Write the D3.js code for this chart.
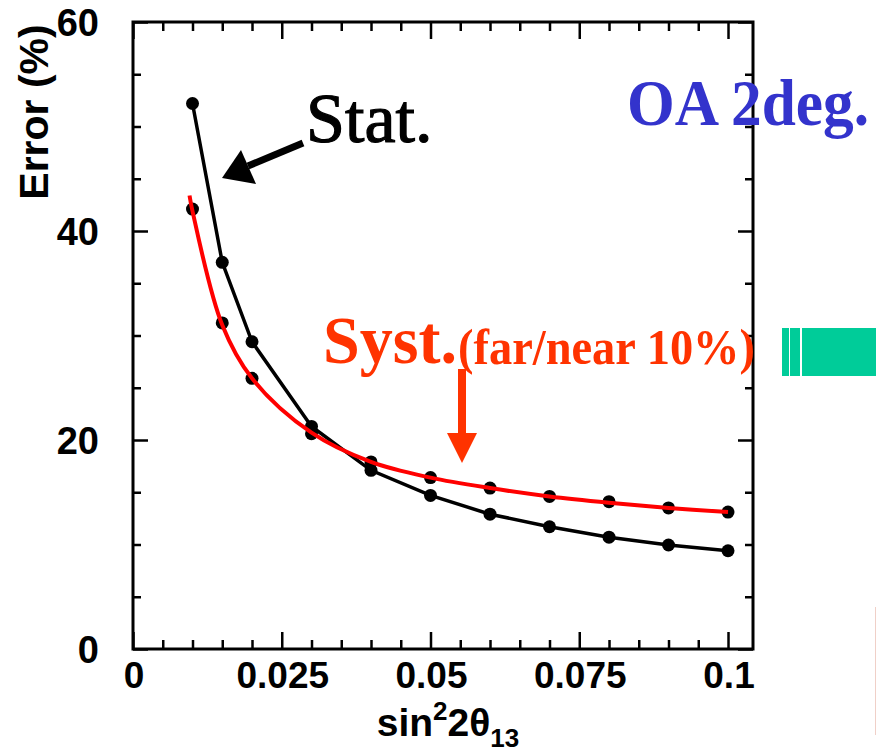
<!DOCTYPE html>
<html>
<head>
<meta charset="utf-8">
<script src="https://cdn.jsdelivr.net/npm/d3@7"></script>
<style>
  html, body { margin: 0; padding: 0; background: #fff; }
  svg { display: block; }
  .axis-num { font-family: "Liberation Sans", Arial, Helvetica, sans-serif; font-weight: bold; }
  .serif { font-family: "Liberation Serif", "Times New Roman", serif; }
</style>
</head>
<body>
<div id="chart"></div>
<script>
// data
const mixing = [0.01, 0.015, 0.02, 0.03, 0.04, 0.05, 0.06, 0.07, 0.08, 0.09, 0.1];
const statError = [52.2, 37.0, 29.4, 21.3, 17.1, 14.7, 12.9, 11.7, 10.7, 9.95, 9.4];
const systError = [42.1, 31.2, 25.9, 20.6, 17.9, 16.4, 15.4, 14.6, 14.1, 13.5, 13.1];
// the red fit line starts a little above the first point
const systFitX = [0.0095, 0.01, 0.015, 0.02, 0.03, 0.04, 0.05, 0.06, 0.07, 0.08, 0.09, 0.1];
const systFitY = [43.4, 41.9, 31.0, 25.9, 20.7, 17.9, 16.4, 15.4, 14.6, 14.0, 13.5, 13.1];
const xTicks = [0, 0.025, 0.05, 0.075, 0.1];
const xTickLabels = ['0', '0.025', '0.05', '0.075', '0.1'];
const yTicks = [0, 20, 40, 60];

// dimension stuff
const width = 876;
const height = 752;
const marginLeft = 133;
const marginTop = 22;
const plotW = 620;
const plotH = 627;

// scales
const scaleX = d3.scaleLinear().domain([0, 0.1042]).range([0, plotW]);
const scaleY = d3.scaleLinear().domain([0, 60]).range([plotH, 0]);

const $svg = d3.select('#chart').append('svg')
    .attr('width', width)
    .attr('height', height);

const $g = $svg.append('g')
    .attr('transform', `translate(${marginLeft}, ${marginTop})`);

// minor tick values
const xMinor = d3.range(0, 0.1041, 0.005).filter(v => xTicks.every(t => Math.abs(t - v) > 1e-9));
const yMinor = d3.range(0, 60.1, 5).filter(v => yTicks.indexOf(v) < 0);

function tickAxis(axisFn, scale, values, size, transform) {
    const $a = $g.append('g')
        .attr('transform', transform)
        .call(axisFn(scale).tickValues(values).tickSize(-size).tickFormat(''));
    $a.select('.domain').remove();
    $a.selectAll('line').attr('stroke', '#000').attr('stroke-width', 2.5);
    return $a;
}

// ticks on all four sides, pointing inwards
tickAxis(d3.axisBottom, scaleX, xTicks, 17, `translate(0, ${plotH})`);
tickAxis(d3.axisBottom, scaleX, xMinor, 9, `translate(0, ${plotH})`);
tickAxis(d3.axisTop, scaleX, xTicks, 17, 'translate(0, 0)');
tickAxis(d3.axisTop, scaleX, xMinor, 9, 'translate(0, 0)');
tickAxis(d3.axisLeft, scaleY, yTicks, 15, 'translate(0, 0)');
tickAxis(d3.axisLeft, scaleY, yMinor, 8, 'translate(0, 0)');
tickAxis(d3.axisRight, scaleY, yTicks, 15, `translate(${plotW}, 0)`);
tickAxis(d3.axisRight, scaleY, yMinor, 8, `translate(${plotW}, 0)`);

// frame
$g.append('rect')
    .attr('width', plotW)
    .attr('height', plotH)
    .attr('fill', 'none')
    .attr('stroke', '#000')
    .attr('stroke-width', 3);

// tick labels
$g.append('g').selectAll('text')
    .data(xTicks)
    .join('text')
    .attr('class', 'axis-num')
    .attr('x', d => scaleX(d) + 1)
    .attr('y', plotH + 39)
    .attr('text-anchor', 'middle')
    .attr('font-size', 37)
    .text((d, i) => xTickLabels[i]);

$g.append('g').selectAll('text')
    .data(yTicks)
    .join('text')
    .attr('class', 'axis-num')
    .attr('x', -34)
    .attr('y', d => scaleY(d) + 14)
    .attr('text-anchor', 'end')
    .attr('font-size', 38)
    .text(d => d);

// axis titles
$svg.append('text')
    .attr('class', 'axis-num')
    .attr('transform', 'translate(48, 112) rotate(-90)')
    .attr('text-anchor', 'middle')
    .attr('font-size', 41)
    .text('Error (%)');

const $xt = $svg.append('text')
    .attr('class', 'axis-num')
    .attr('x', 448)
    .attr('y', 736)
    .attr('text-anchor', 'middle')
    .attr('font-size', 39);
$xt.append('tspan').text('sin');
$xt.append('tspan').attr('dy', -16).attr('font-size', 26).text('2');
$xt.append('tspan').attr('dy', 16).text('2θ');
$xt.append('tspan').attr('dy', 11).attr('font-size', 26).text('13');

// curves
const lineStat = d3.line()
    .x((d, i) => scaleX(mixing[i]))
    .y(d => scaleY(d));
const lineSyst = d3.line()
    .x((d, i) => scaleX(systFitX[i]))
    .y(d => scaleY(d))
    .curve(d3.curveCatmullRom);

const $vis = $g.append('g');

$vis.append('path')
    .datum(statError)
    .attr('d', lineStat)
    .attr('fill', 'none')
    .attr('stroke', '#000')
    .attr('stroke-width', 3.5);

$vis.selectAll('.dot-stat')
    .data(statError)
    .join('circle')
    .attr('class', 'dot-stat')
    .attr('cx', (d, i) => scaleX(mixing[i]))
    .attr('cy', d => scaleY(d))
    .attr('r', 6.5)
    .attr('fill', '#000');

$vis.selectAll('.dot-syst')
    .data(systError)
    .join('circle')
    .attr('class', 'dot-syst')
    .attr('cx', (d, i) => scaleX(mixing[i]))
    .attr('cy', d => scaleY(d))
    .attr('r', 6.5)
    .attr('fill', '#000');

$vis.append('path')
    .datum(systFitY)
    .attr('d', lineSyst)
    .attr('fill', 'none')
    .attr('stroke', '#ff0000')
    .attr('stroke-width', 4);

// annotations
$svg.append('text')
    .attr('class', 'serif')
    .attr('x', 306)
    .attr('y', 142)
    .attr('font-size', 70)
    .attr('fill', '#000')
    .attr('stroke', '#000')
    .attr('stroke-width', 1.2)
    .text('Stat.');

// black arrow
$svg.append('line')
    .attr('x1', 303).attr('y1', 143)
    .attr('x2', 248).attr('y2', 166)
    .attr('stroke', '#000')
    .attr('stroke-width', 7);
$svg.append('path')
    .attr('d', 'M222,178 L241,150 L256,184 Z')
    .attr('fill', '#000');

$svg.append('text')
    .attr('class', 'serif')
    .attr('x', 627)
    .attr('y', 125)
    .attr('font-size', 66)
    .attr('font-weight', 'bold')
    .attr('fill', '#3333cc')
    .attr('textLength', 242)
    .attr('lengthAdjust', 'spacingAndGlyphs')
    .text('OA 2deg.');

$svg.append('text')
    .attr('class', 'serif')
    .attr('x', 323)
    .attr('y', 363)
    .attr('font-size', 68)
    .attr('font-weight', 'bold')
    .attr('fill', '#ff3300')
    .attr('textLength', 134)
    .attr('lengthAdjust', 'spacingAndGlyphs')
    .text('Syst.');

$svg.append('text')
    .attr('class', 'serif')
    .attr('x', 458)
    .attr('y', 364)
    .attr('font-size', 50)
    .attr('font-weight', 'bold')
    .attr('fill', '#ff3300')
    .attr('textLength', 297)
    .attr('lengthAdjust', 'spacingAndGlyphs')
    .text('(far/near 10%)');

// red arrow
$svg.append('rect')
    .attr('x', 458).attr('y', 369)
    .attr('width', 8).attr('height', 66)
    .attr('fill', '#ff3300');
$svg.append('path')
    .attr('d', 'M447,433 L477,433 L462,463 Z')
    .attr('fill', '#ff3300');

// green marker bar on the right
const $bar = $svg.append('g').attr('fill', '#00cc99');
$bar.append('rect').attr('x', 782).attr('y', 328).attr('width', 7).attr('height', 48);
$bar.append('rect').attr('x', 790).attr('y', 328).attr('width', 10).attr('height', 48);
$bar.append('rect').attr('x', 802).attr('y', 328).attr('width', 74).attr('height', 48);

// faint edge line bottom right
$svg.append('line')
    .attr('x1', 875.5).attr('y1', 607)
    .attr('x2', 875.5).attr('y2', 735)
    .attr('stroke', '#f0d0c8')
    .attr('stroke-width', 1);
</script>
</body>
</html>
